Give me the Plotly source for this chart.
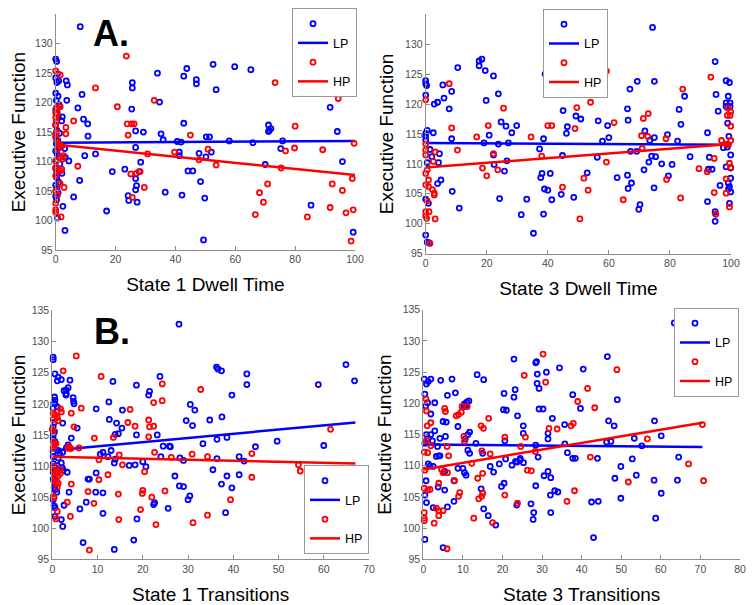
import plotly.graph_objects as go

# reference size; the page body adds an 8px margin, so the figure is drawn 8px smaller
W, H = 754, 605
PAD = 8
FW, FH = W - PAD, H - PAD

# ---------------- Panel A left: State 1 Dwell Time ----------------
dwell1_lp_x = [8.2, 34, 43.8, 42.8, 47, 47, 25.6, 25.6, 3.5, 3.9, 8.8, 3.7, 34.7, 25.4, 7.4, 9.3, 10.7, 42.8,
               26.7, 29.3, 35.2, 35.9, 10.8, 40.6, 41.9, 26.7, 41.3, 41.3, 13.3, 9.7, 47.9, 28.4, 18.9, 23.1,
               27.9, 26.7, 44.2, 45.8, 48.4, 8, 27, 26.7, 36.6, 42.2, 24.2, 24.4, 27.2, 6, 17, 3.1,
               2.2, 2.0, 3.0, 3.2, 4.4, 2.1, 2.4,
               0, 0.3, 0.6, 0, 1.0, 0.4, 0, 0.8, 0.2, 1.2, 0, 0.5, 0.9, 0, 0.4, 1.3, 0, 0.7, 0.2, 1.1, 0,
               0.5, 0.9, 0.2, 1.4, 0, 0.6, 0.3, 1.0, 0, 0.4, 0.8, 0, 0.3, 0.6,
               52.6, 59.8, 65.2, 53.6, 86.3, 91.7, 71.1, 71.1, 71.9, 71.4, 50.3, 51.4, 58, 65.9, 75.8, 94.1,
               75.2, 52, 50.2, 95.8, 70, 49.8, 85.3, 99.4, 49.4]
dwell1_lp_y = [132.9, 125, 125.8, 124.5, 123.9, 123.2, 123.4, 122.5, 123.7, 123.0, 121.4, 120.4, 120.1, 118.9,
               119.1, 117.2, 116.4, 116.5, 115.2, 115.0, 114.7, 113.7, 114.3, 113.4, 113.3, 112.4, 111.6,
               111.0, 111.3, 111.0, 111.4, 109.9, 108.3, 108.7, 108.3, 107.1, 108.4, 108.4, 106.6, 106.8,
               105.9, 105.2, 104.8, 104.3, 104.2, 103.4, 103.1, 104.0, 101.6, 98.3,
               117.6, 116.9, 112.2, 110.7, 110.1, 108.0, 102.4,
               127.4, 127.0, 124.9, 124.2, 123.7, 123.4, 121.6, 121.1, 120.4, 119.6, 118.8, 118.3, 117.5,
               116.2, 115.3, 114.8, 114.2, 113.6, 113.0, 112.4, 111.8, 111.3, 110.8, 110.2, 109.6, 108.8,
               108.0, 107.3, 106.5, 106.0, 105.5, 104.7, 104.1, 103.5, 100.4,
               126.5, 126.1, 125.6, 122.2, 121.6, 119.2, 116.2, 115.1, 115.6, 115.3, 114.2, 114.2, 113.5,
               113.2, 113.5, 115.1, 112.2, 111.6, 110.8, 110.0, 109.5, 103.8, 102.6, 98.0, 96.7]
dwell1_hp_x = [23.6, 13.3, 32.9, 20.6, 6, 23.9, 25.4, 26.2, 3.4, 24.2, 45, 3.4, 30.7, 39.7, 47.9, 7.4, 28.2,
               27, 25.1, 29.6, 25.6,
               73.3, 94.4, 80, 79.8, 76.8, 50.9, 89.2, 99.7, 53.6, 75.3, 99.1, 70.8, 92.4, 68.1, 95.8, 69.4,
               91.7, 99.4, 97, 66.7, 84.1, 98.7,
               0, 1.5, 0.3, 1.5, 0, 0, 0, 0, 1, 1.4, 2, 2.6, 1.5, 2.2, 0, 0, 0.3, 2.0, 1.5, 0, 1.5, 2.8, 0,
               0.6, 0, 0, 0, 1.8, 0.3, 0.5, 0.2, 0.4, 0.2, 0.5]
dwell1_hp_y = [127.9, 122.5, 120.4, 119.3, 116.9, 116.4, 116.4, 116.4, 115.8, 114.5, 114.5, 114.7, 111.3,
               111.6, 110.3, 109.2, 108.3, 108.0, 107.9, 105.6, 103.9,
               123.4, 120.7, 116.0, 112.3, 111.8, 112.1, 112.0, 113.1, 109.4, 108.9, 107.1, 106.2, 106.2,
               104.7, 105.1, 103.1, 102.2, 101.8, 101.3, 101.0, 100.6, 96.5,
               125.4, 124.7, 119.2, 119.3, 118.3, 117.5, 116.2, 114.7, 113.0, 112.8, 112.6, 111.0, 110.7,
               110.4, 110.1, 109.0, 108.4, 108.7, 108.4, 107.6, 106.2, 105.6, 105.0, 104.3, 102.9, 101.8,
               101.4, 100.6, 118.8, 118.0, 116.8, 115.0, 113.8, 112.0]
dwell1_fit_x = [0, 100]
dwell1_lp_fit = [113.2, 113.5]
dwell1_hp_fit = [112.9, 107.7]

# ---------------- Panel A right: State 3 Dwell Time ----------------
dwell3_lp_x = [10.5, 17.5, 18.4, 17.5, 19.5, 22.2, 39.1, 0, 0, 0.3, 5.6, 8.5, 23.8, 0, 6, 19.8, 2.8, 3.9,
               7.7, 8.5, 20.8, 24.7, 26.3, 29.8, 28.2, 38.6, 0, 0, 0, 0.5, 2.5, 19.1, 23.8, 27.1, 1.4, 22.2,
               37.3, 2, 0.5, 4.5, 4.2, 22.4, 26.6, 25.8, 38.1, 37.7, 40.8, 3.9, 5, 8.7, 38.9, 40, 41.3, 24.2,
               33.1, 44.4, 0, 0.9, 11, 31.3, 38.6, 35.3, 0, 0.5, 1.2,
               45, 46.1, 46.4, 49.2, 50.8, 56.5, 59.6, 60, 57.9, 44.8, 56.2, 52.9, 62.7, 48.5, 74.3, 69.3,
               74.9, 66.9, 84.8, 66.1, 66.3, 83, 83.6, 71.8, 73.4, 74.9, 67.1, 69.1, 79.2, 82.5, 74, 75.3,
               73.1, 77.3, 80.7, 86.6, 71.5, 79.5, 66.1, 67.4, 66.3, 74.8, 70.2, 69.8, 92.3, 94.8, 95.1,
               98.4, 99.5, 99.1, 95.8, 98.4, 99.7, 98.4, 99.7, 98.9, 99.3, 97.5, 98.8, 92.9, 99.9, 98.4,
               99.9, 92.6, 93.8, 99.9, 99.1, 99.5, 99.9, 99.2, 96.4, 92.3, 99.5, 94.8, 95.0, 94.8]
dwell3_lp_y = [126.1, 127.2, 127.5, 126.4, 125.6, 124.7, 125.0, 123.9, 123.4, 123.1, 123.2, 122.1, 121.7,
               121.5, 121.0, 120.6, 120.0, 120.3, 119.2, 114.2, 114.8, 117.0, 116.3, 116.4, 115.2, 114.2,
               115.1, 114.6, 114.0, 115.6, 115.2, 113.5, 113.3, 113.5, 112.4, 111.5, 112.5, 111.2, 110.2,
               111.7, 110.2, 109.9, 110.5, 108.8, 108.4, 107.7, 108.4, 106.7, 107.3, 105.4, 105.8, 105.6,
               104.0, 104.2, 104.1, 104.9, 104.1, 103.4, 102.6, 101.5, 101.6, 98.4, 98.1, 96.9, 96.8,
               118.9, 115.1, 116.2, 118.0, 117.5, 117.2, 116.4, 114.4, 113.8, 111.4, 111.1, 108.5, 107.7,
               104.4, 132.8, 123.8, 123.8, 122.5, 121.3, 119.2, 117.3, 119.1, 116.6, 115.5, 113.9, 114.4,
               112.1, 112.1, 114.9, 113.8, 111.3, 111.2, 110.3, 110.0, 109.9, 111.2, 109.0, 108.0, 108.1,
               106.8, 105.9, 106.0, 103.2, 102.4, 115.2, 127.1, 121.6, 123.9, 123.6, 121.3, 118.8, 120.2,
               120.2, 119.6, 119.6, 116.8, 114.6, 112.7, 112.8, 111.1, 111.5, 109.5, 109.3, 109.1, 109.1,
               107.6, 106.8, 106.2, 105.3, 105.8, 106.4, 103.7, 103.4, 102.0, 101.6, 100.4]
dwell3_hp_x = [7.7, 0, 25.5, 8.5, 20.5, 34.5, 40, 41.3, 16.7, 0, 0, 3.1, 10.4, 22.2, 0, 38.0, 2.5, 18.6, 20,
               23.6, 0, 0.5, 0.9, 0, 0.9, 2.2, 2.8, 2.8, 44.8, 0.5, 0, 0, 0.3, 1.1, 3.1, 1.4,
               48.9, 49.5, 54, 61.7, 59.2, 51.8, 53.2, 50.5, 59.2, 84.2, 71.3, 72.9, 70.7, 72.7, 70.9,
               78.7, 78.9, 64.7, 83.5, 93.4, 99, 99.9, 98.8, 99.7, 99.9, 96.9, 99.9, 98.5, 99.2, 94.5,
               99.5, 99.9, 92.2, 89.5, 98.4, 98.4, 94.5, 99.5, 95]
dwell3_hp_y = [123.4, 120.7, 119.3, 116.0, 116.4, 114.5, 116.4, 116.4, 114.5, 113.3, 112.3, 112.0, 112.3,
               111.7, 111.5, 111.3, 110.4, 109.3, 108.0, 109.0, 108.4, 109.0, 107.3, 106.5, 106.2, 105.7,
               105.1, 104.8, 106.1, 103.8, 102.0, 101.3, 100.9, 102.0, 100.8, 96.7,
               115.9, 119.4, 120.3, 116.9, 110.3, 107.6, 105.6, 100.8, 125.5, 122.5, 117.6, 118.4, 114.7,
               114.6, 112.6, 114.2, 107.4, 104.0, 104.3, 124.5, 119.3, 118.7, 118.1, 118.1, 116.3, 113.9,
               113.9, 113.3, 113.2, 110.9, 110.1, 109.4, 108.7, 109.2, 107.5, 105.1, 105.2, 102.8, 101.6]
dwell3_fit_x = [0, 100]
dwell3_lp_fit = [113.5, 113.2]
dwell3_hp_fit = [109.4, 113.3]

# ---------------- Panel B left: State 1 Transitions ----------------
trans1_lp_x = [0.2, 0.2, 0.6, 1.3, 1.1, 2, 3.9, 2.6, 3.1, 3.1, 3.5, 3, 0.5, 0.6, 0.3, 0.6, 0.2, 1.1, 4.6, 4.7,
               4.8, 13.4, 18.6, 9.7, 12.5, 15.5, 2.3, 5.5, 12.6, 14.2, 15.4, 14.6, 13.9, 18.6, 0.3, 0.4, 0.2,
               0.5, 0.2, 0.2, 0.6, 4.2, 3.5, 3.1, 2.3, 1.3, 1.7, 1.3, 0.2, 0.2, 10.6, 11.2, 13, 12.3, 13.9,
               13.7, 17, 18.3, 0.2, 0.6, 1.1, 2, 2.2, 2.4, 3.3, 0.2, 0.2, 0.4, 0.4, 0.6, 1, 0.2, 0.4, 0.6,
               7.9, 8.2, 9.7, 11.2, 9.6, 3.7, 2.6, 6.1, 7.5, 11.2, 2, 2.3, 0.6, 6.8, 13.7, 18, 18.7,
               21.5, 21.3, 23.8, 20, 20.7, 22.6, 22.4, 25.6, 27.1, 28.1, 26.1, 24, 24.5, 23.2, 25.9,
               28, 36.3, 36.6, 37.4, 43, 43, 39.7, 30.5, 31.5, 29.6, 31, 34.8, 37.5, 36.4, 38.6, 33.3, 44.9,
               49.7, 60, 58.8, 64.9, 66.8, 28.2, 29, 36.4, 41.3, 42.4, 35.5, 38.6, 41.3, 29, 37.4, 39.7,
               30.4, 30, 38.3]
trans1_lp_y = [127.5, 127.1, 124.8, 124.3, 123.7, 123.9, 123.8, 122.1, 122.2, 121.6, 122.6, 121.4, 121.1,
               120.6, 120.1, 120.0, 119.3, 119.5, 121.0, 120.4, 120.0, 123.6, 123.0, 119.2, 120.3, 119.0,
               116.9, 116.1, 117.5, 116.9, 116.1, 115.2, 115.1, 115.0, 117.6, 117.0, 116.3, 115.5, 115.0,
               114.4, 113.9, 114.5, 113.4, 112.9, 112.2, 112.5, 111.9, 111.3, 112.3, 111.5, 111.9, 112.2,
               112.5, 111.5, 111.1, 110.5, 110.1, 110.2, 110.4, 109.8, 110.1, 110.5, 109.7, 109.3, 109.0,
               109.0, 107.9, 107.4, 106.5, 106.2, 105.8, 104.6, 103.6, 103.3, 107.9, 107.9, 108.9, 105.7,
               105.8, 105.8, 103.7, 103.1, 104.2, 102.4, 101.4, 100.3, 101.9, 97.7, 96.6, 98.1, 101.5,
               122.0, 121.4, 124.4, 110.7, 109.9, 104.1, 103.8, 103.2, 108.4, 106.8, 113.1, 111.5, 113.2,
               115.0, 113.2,
               132.8, 125.9, 125.6, 125.3, 124.8, 123.1, 121.4, 119.9, 119.0, 117.3, 116.5, 117.4, 117.9,
               114.3, 114.6, 113.6, 113.1, 114.0, 113.3, 123.1, 126.3, 123.7, 111.3, 110.9, 111.2, 111.5,
               110.8, 109.4, 108.4, 108.6, 106.7, 107.1, 106.5, 105.2, 104.6, 102.5]
trans1_hp_x = [5.3, 2.4, 10.8, 1.8, 2, 0.2, 0.6, 1.1, 0.2, 1.3, 0, 0.2, 6.4, 4.2, 4.8, 9.3, 13.5, 17.2, 16.7,
               18.3, 0.2, 0.4, 0.8, 0.2, 3.7, 4.1, 3.5, 5.9, 10.3, 14.8, 15.5, 0.2, 0.2, 0.6, 1, 0.6, 1.3,
               0.4, 1, 1.3, 1.1, 1.7, 1.8, 10.3, 12.3, 4.2, 7.9, 14.6, 0.2, 0.4, 1.1, 3.3, 4, 0.8, 9.2,
               14.7, 8.2,
               24.3, 24.3, 22.4, 21.3, 21.5, 22.4, 21.3, 22.6, 26.3, 20.4, 20, 19.9, 22, 24.9, 19.5, 22.9,
               32.8, 30.9, 34.3, 44.1, 44.1, 39.4, 34.3, 31.1, 61.5, 54.4, 54.8]
trans1_hp_y = [127.7, 125.3, 124.4, 119.2, 118.7, 118.5, 118.2, 117.8, 117.5, 117.3, 115.9, 115.6, 119.3,
               118.5, 116.3, 114.5, 114.6, 119.1, 117.0, 116.4, 113.9, 113.4, 113.6, 112.9, 113.1, 112.8,
               112.9, 112.9, 111.0, 111.8, 110.2, 110.0, 109.4, 108.9, 109.1, 108.3, 108.4, 107.5, 107.5,
               107.2, 106.6, 109.5, 108.8, 107.8, 108.6, 107.1, 105.9, 105.5, 105.1, 104.9, 102.7, 104.2,
               101.9, 101.5, 104.0, 101.4, 96.5,
               123.2, 120.5, 120.2, 117.4, 116.3, 116.4, 114.7, 112.2, 111.4, 109.1, 106.1, 105.6, 105.0,
               106.0, 103.0, 100.6,
               122.3, 111.9, 111.5, 112.0, 108.2, 104.6, 102.1, 100.9, 115.9, 110.2, 109.2]
trans1_fit_x = [0, 67]
trans1_lp_fit = [112.5, 117.0]
trans1_hp_fit = [111.5, 110.4]

# ---------------- Panel B right: State 3 Transitions ----------------
trans3_lp_x = [0.25, 0.8, 1.25, 1.9, 0.4, 0.6, 1.1, 1.9, 2.9, 4.4, 7.25, 6.1, 8.1, 10.4, 11, 11.5, 10.3, 10.7,
               13.6, 15.25, 20.4, 20.25, 21, 0.8, 1.9, 2.9, 0.4, 1.25, 2.3, 4.2, 5.6, 5, 5.8, 8.75, 3.6, 3.9,
               3.3, 4.2, 11.25, 11.7, 10.6, 13.3, 11.25, 11.7, 15, 20.6, 20.8, 1.25, 1.7, 2.5, 5.4, 8.75, 10,
               10.4, 10.8, 16.9, 17.75, 19.2, 0.7, 7.75, 3.75, 5.4, 20.4, 19.75, 0.4, 0.8, 2.5, 6.1, 7.75,
               14.6, 15.25, 16.4, 18.3, 0.4, 5,
               22.9, 23.2, 22.9, 23.8, 25.25, 25.25, 24.5, 23.7, 23.3, 22.4, 25.3, 24.4, 23.6, 28.4, 28.6,
               28.8, 31.1, 28.75, 29.25, 29.25, 30.25, 32.6, 34.4, 40.4, 37.75, 39.7, 35.7, 31.5, 31.5, 28.4,
               35.75, 29, 36.4, 37.75, 38.4, 44, 31.5, 30.5, 32.2, 28.4, 32.1, 33.2, 34, 27.2, 27.9, 27.75,
               32.2, 42.5, 44.2, 43,
               63.4, 46.5, 49, 46.8, 48.2, 58.4, 60.1, 53.3, 55.2, 46.3, 47.4, 64.5, 52.8, 49.9, 48.4, 53.8,
               58.3, 64.2, 60.1, 49.9, 58.7]
trans3_lp_y = [123.9, 123.1, 123.5, 123.9, 121.5, 119.6, 120.1, 118.3, 120.1, 123.7, 123.9, 121.3, 121.7,
               119.9, 120.2, 120.4, 119.5, 119.6, 124.6, 123.8, 121.6, 119.0, 118.9, 115.0, 115.0, 115.6,
               113.6, 114.4, 114.0, 114.4, 114.7, 117.1, 117.0, 116.3, 113.1, 111.6, 111.5, 111.6, 115.0,
               115.4, 114.3, 113.6, 112.5, 112.0, 112.0, 114.0, 111.1, 110.3, 110.0, 109.9, 109.1, 109.6,
               109.6, 108.9, 108.5, 109.9, 109.0, 110.3, 107.6, 107.6, 106.6, 106.1, 107.2, 106.7, 105.3,
               104.1, 103.3, 103.4, 104.3, 106.3, 103.1, 102.0, 100.5, 98.2, 96.9,
               127.1, 122.2, 121.0, 118.0, 116.4, 115.2, 111.2, 110.6, 110.7, 110.1, 110.5, 110.9, 103.7,
               126.5, 126.7, 124.7, 125.0, 123.2, 122.4, 119.1, 119.1, 117.6, 125.7, 125.5, 121.4, 119.2,
               116.6, 115.2, 114.3, 113.3, 113.5, 111.4, 112.1, 111.2, 111.2, 111.2, 109.1, 108.4, 108.1,
               106.8, 105.3, 106.0, 105.8, 103.9, 102.5, 101.4, 102.5, 104.2, 104.3, 98.5,
               132.9, 127.5, 120.6, 117.2, 116.4, 117.2, 114.8, 114.4, 113.2, 113.8, 113.9, 111.4, 111.1,
               109.9, 108.0, 108.5, 107.7, 107.7, 105.6, 104.8, 101.6]
trans3_hp_x = [0.7, 0.8, 1.9, 1, 0.8, 0.25, 1.1, 1.9, 5.4, 5.6, 8.3, 8.9, 9.8, 11.1, 9.6, 16.5, 14.6, 15.2,
               10.25, 10.4, 6, 6.4, 14.8, 16.9, 20.6, 0.4, 4.6, 5, 6.1, 12.25, 13.75, 15, 7.9, 3.9, 0.25,
               1.1, 1.7, 9.2, 8.9, 15, 14.75, 14, 20.6, 3.3, 3.9, 5, 2.75, 0.25, 0.25, 0.25, 3.9, 12.75,
               17.5, 6,
               30.25, 25.5, 30.9, 41.5, 39, 43.3, 31.75, 33.8, 37.3, 37.9, 25.8, 24.6, 28.3, 42.2, 26.3,
               27.3, 23.8, 36.3, 38.2,
               48.9, 56.6, 70.5, 67, 51.8, 70.8]
trans3_hp_y = [120.7, 118.8, 116.9, 116.4, 114.1, 112.2, 112.1, 113.2, 119.2, 118.7, 118.0, 118.2, 119.5,
               119.5, 118.6, 117.6, 116.4, 116.0, 114.7, 113.9, 113.1, 111.6, 112.4, 111.9, 114.6, 109.3,
               109.4, 108.9, 108.9, 110.4, 108.0, 108.8, 107.6, 107.2, 106.4, 106.1, 106.2, 105.7, 105.1,
               105.6, 105.1, 104.7, 105.3, 103.2, 102.8, 102.8, 100.8, 102.5, 101.6, 101.2, 102.0, 101.6,
               100.9, 96.7,
               127.9, 124.5, 123.4, 122.4, 120.3, 119.3, 116.0, 115.9, 116.4, 116.8, 114.6, 113.1, 112.3,
               111.4, 109.3, 109.2, 104.0, 104.3, 106.0,
               125.4, 114.3, 116.6, 110.3, 107.4, 107.6]
trans3_fit_x = [0, 70.5]
trans3_lp_fit = [113.4, 113.0]
trans3_hp_fit = [109.4, 116.9]

BLUE = "#0000ff"
RED = "#ff0000"
AXIS_GREY = "#8c8c8c"
FONT = "Arial, Liberation Sans, sans-serif"


def px_x(p):
    return (p - PAD) / FW


def px_y(p):
    return 1 - (p - PAD) / FH


fig = go.Figure()

# per panel: data, x title, x max, tick step, plot box in page pixels,
# legend anchor (right edge x, y, vertical anchor) in page pixels
panels = [
    (dwell1_lp_x, dwell1_lp_y, dwell1_hp_x, dwell1_hp_y, dwell1_fit_x, dwell1_lp_fit, dwell1_hp_fit,
     "State 1 Dwell Time", 100, 20, (55.7, 355, 13.3, 249.3), (357, 52, "middle")),
    (dwell3_lp_x, dwell3_lp_y, dwell3_hp_x, dwell3_hp_y, dwell3_fit_x, dwell3_lp_fit, dwell3_hp_fit,
     "State 3 Dwell Time", 100, 20, (425.7, 731, 13.3, 253), (608, 53, "middle")),
    (trans1_lp_x, trans1_lp_y, trans1_hp_x, trans1_hp_y, trans1_fit_x, trans1_lp_fit, trans1_hp_fit,
     "State 1 Transitions", 70, 10, (52.3, 369, 310, 559.3), (369, 554, "bottom")),
    (trans3_lp_x, trans3_lp_y, trans3_hp_x, trans3_hp_y, trans3_fit_x, trans3_lp_fit, trans3_hp_fit,
     "State 3 Transitions", 80, 10, (423.3, 740, 309.3, 559.3), (739, 352, "middle")),
]

layout = {}
for i, (lpx, lpy, hpx, hpy, fx, lpf, hpf, xtitle, xmax, dt, box, leg) in enumerate(panels):
    n = "" if i == 0 else str(i + 1)
    xa, ya = "x" + n, "y" + n
    lg = "legend" + n
    marker = dict(symbol="circle-open", size=5, line=dict(width=1.8))
    fig.add_trace(go.Scatter(x=lpx, y=lpy, mode="markers", name=" ", xaxis=xa, yaxis=ya, legend=lg,
                             marker=dict(marker, color=BLUE), cliponaxis=False))
    fig.add_trace(go.Scatter(x=fx, y=lpf, mode="lines", name="LP", xaxis=xa, yaxis=ya, legend=lg,
                             line=dict(color=BLUE, width=2.5)))
    fig.add_trace(go.Scatter(x=hpx, y=hpy, mode="markers", name=" ", xaxis=xa, yaxis=ya, legend=lg,
                             marker=dict(marker, color=RED), cliponaxis=False))
    fig.add_trace(go.Scatter(x=fx, y=hpf, mode="lines", name="HP", xaxis=xa, yaxis=ya, legend=lg,
                             line=dict(color=RED, width=2.5)))

    x0, x1, y0, y1 = box
    common = dict(showline=True, linecolor=AXIS_GREY, linewidth=1, ticks="inside", ticklen=4,
                  tickcolor=AXIS_GREY, showgrid=False, zeroline=False, automargin=False, mirror=False,
                  tickfont=dict(family=FONT, size=10.5, color="#4d4d4d"))
    layout["xaxis" + n] = dict(common, domain=[px_x(x0), px_x(x1)], range=[0, xmax], dtick=dt, anchor=ya,
                               title=dict(text=xtitle, font=dict(family=FONT, size=19, color="black"),
                                          standoff=13))
    layout["yaxis" + n] = dict(common, domain=[px_y(y1), px_y(y0)], range=[95, 135], dtick=5,
                               anchor=xa,
                               title=dict(text="Executive Function",
                                          font=dict(family=FONT, size=19, color="black"), standoff=6))
    layout[lg] = dict(x=px_x(leg[0]), y=px_y(leg[1]), xanchor="right", yanchor=leg[2],
                      bgcolor="white", bordercolor="#999999", borderwidth=1, itemwidth=30,
                      tracegroupgap=0, traceorder="normal",
                      font=dict(family=FONT, size=12.5, color="black"))

fig.update_layout(**layout)
fig.update_layout(
    width=FW, height=FH,
    template="none",
    margin=dict(l=0, r=0, t=0, b=0),
    plot_bgcolor="white",
    paper_bgcolor="white",
    annotations=[
        dict(text="<b>A.</b>", x=px_x(111), y=px_y(33), xref="paper", yref="paper", showarrow=False,
             xanchor="center", yanchor="middle", font=dict(family=FONT, size=36, color="black")),
        dict(text="<b>B.</b>", x=px_x(111.5), y=px_y(331), xref="paper", yref="paper", showarrow=False,
             xanchor="center", yanchor="middle", font=dict(family=FONT, size=36, color="black")),
    ],
)

fig.write_html("out.html")
